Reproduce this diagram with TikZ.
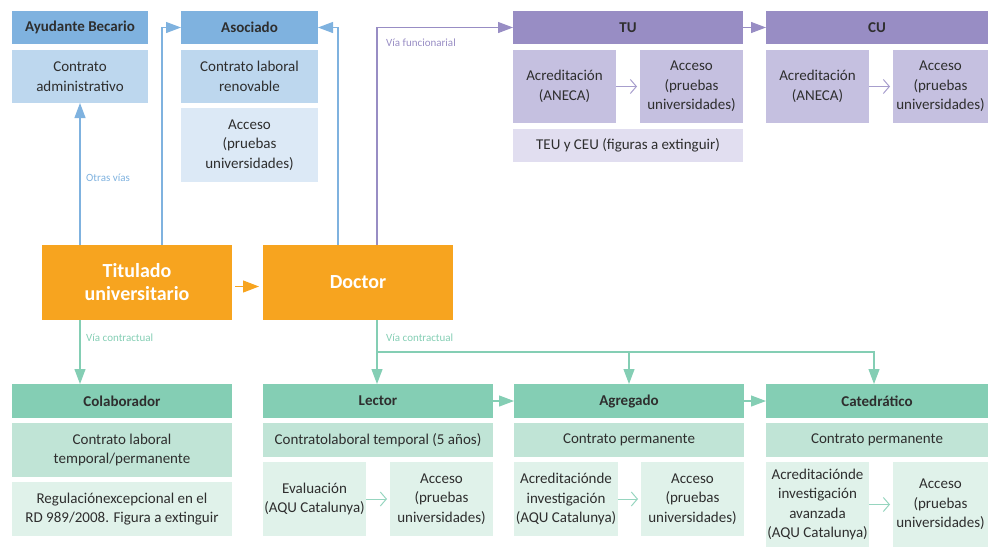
\documentclass[tikz,border=0pt]{standalone}
\usepackage{fontspec}
\setmainfont{Carlito}
\usetikzlibrary{arrows.meta}
\definecolor{bhead}{HTML}{7FB2DF}
\definecolor{bbody}{HTML}{BDD7EE}
\definecolor{blight}{HTML}{DCE9F6}
\definecolor{orng}{HTML}{F7A41F}
\definecolor{phead}{HTML}{988DC4}
\definecolor{pbody}{HTML}{C5C0E0}
\definecolor{plight}{HTML}{E1DEF0}
\definecolor{ghead}{HTML}{84CEB4}
\definecolor{gbody}{HTML}{C0E4D6}
\definecolor{glight}{HTML}{E0F2EA}
\definecolor{txt}{HTML}{2E2E2E}
\newcommand\bx[7]{\node[#2, minimum width={#5-#3}, minimum height={#6-#4}] (#1) at ({(#3+#5)/2},{(#4+#6)/2}) {#7};}
\tikzset{
  base/.style={inner sep=0pt, outer sep=0pt, align=center, text=txt, font=\fontsize{15}{19.5}\selectfont},
  hd/.style={base, font=\fontsize{15}{18}\selectfont\bfseries},
  bh/.style={hd, fill=bhead}, bb/.style={base, fill=bbody}, bl/.style={base, fill=blight},
  ph/.style={hd, fill=phead}, pb/.style={base, fill=pbody}, pl/.style={base, fill=plight},
  gh/.style={hd, fill=ghead}, gb/.style={base, fill=gbody}, gl/.style={base, fill=glight},
  ob/.style={inner sep=0pt, outer sep=0pt, align=center, fill=orng, text=white, font=\fontsize{20}{23}\selectfont\bfseries},
  tip/.style={-{Triangle[length=15pt,width=11pt]}},
  barr/.style={draw=bhead, line width=1.2pt, tip},
  parr/.style={draw=phead, line width=1.2pt, tip},
  garr/.style={draw=ghead, line width=1.2pt, tip},
  oarr/.style={draw=orng, line width=1.2pt, -{Triangle[length=16pt,width=12pt]}, shorten <=3pt, shorten >=4pt},
  psmall/.style={draw=phead!85, line width=1pt, -{Straight Barb[length=6pt,width=14pt]}, shorten >=3pt},
  gsmall/.style={draw=ghead!85, line width=1pt, -{Straight Barb[length=6pt,width=14pt]}, shorten >=3pt},
  lbl/.style={inner sep=0pt, anchor=west, font=\fontsize{11}{13}\selectfont}
}
\begin{document}
\begin{tikzpicture}[x=1pt,y=-1pt]
\useasboundingbox (0,0) rectangle (990,547);
% blue
\bx{ayh}{bh}{12}{11}{148}{44}{Ayudante Becario}
\bx{ayb}{bb}{12}{50}{148}{103}{Contrato\\administrativo}
\bx{ash}{bh}{181}{11}{318}{44}{Asociado}
\bx{asb1}{bb}{181}{50}{318}{103}{Contrato laboral\\renovable}
\bx{asb2}{bl}{181}{108}{318}{182}{Acceso\\(pruebas\\universidades)}
% purple
\bx{tuh}{ph}{513}{11}{743}{44}{TU}
\bx{tua}{pb}{513}{50}{616}{123}{Acreditación\\(ANECA)}
\bx{tub}{pb}{640}{50}{743}{123}{Acceso\\(pruebas\\universidades)}
\bx{teu}{pl}{513}{129}{743}{162}{TEU y CEU (figuras a extinguir)}
\bx{cuh}{ph}{766}{11}{988}{44}{CU}
\bx{cua}{pb}{766}{50}{869}{123}{Acreditación\\(ANECA)}
\bx{cub}{pb}{893}{50}{988}{123}{Acceso\\(pruebas\\universidades)}
% orange
\bx{tit}{ob}{42}{245}{232}{320}{Titulado\\universitario}
\bx{doc}{ob}{263}{245}{453}{320}{Doctor}
% green
\bx{colh}{gh}{12}{384}{232}{418}{Colaborador}
\bx{colb1}{gb}{12}{423}{232}{477}{Contrato laboral\\temporal/permanente}
\bx{colb2}{gl}{12}{482}{232}{536}{Regulaciónexcepcional en el\\RD 989/2008. Figura a extinguir}
\bx{lech}{gh}{263}{384}{493}{418}{Lector}
\bx{lecb}{gb}{263}{423}{493}{457}{Contratolaboral temporal (5 años)}
\bx{leca}{gl}{263}{462}{366}{536}{Evaluación\\(AQU Catalunya)}
\bx{lecc}{gl}{390}{462}{493}{536}{Acceso\\(pruebas\\universidades)}
\bx{agh}{gh}{514}{384}{744}{418}{Agregado}
\bx{agb}{gb}{514}{423}{744}{457}{Contrato permanente}
\bx{aga}{gl}{514}{462}{618}{536}{Acreditaciónde\\investigación\\(AQU Catalunya)}
\bx{agc}{gl}{641}{462}{744}{536}{Acceso\\(pruebas\\universidades)}
\bx{cath}{gh}{766}{384}{988}{418}{Catedrático}
\bx{catb}{gb}{766}{423}{988}{457}{Contrato permanente}
\bx{cata}{gl}{766}{462}{869}{547}{Acreditaciónde\\investigación\\avanzada\\(AQU Catalunya)}
\bx{catc}{gl}{893}{462}{988}{547}{Acceso\\(pruebas\\universidades)}
% coordinates
\coordinate (xa) at (162,0);
\coordinate (xb) at (338,0);
\coordinate (xc) at (377,0);
\coordinate (gj) at (377,352);
% connectors
\draw[barr] (tit.north -| ayb.south) -- (ayb.south);
\draw[barr] (tit.north -| xa) |- (ash.west);
\draw[barr] (doc.north -| xb) |- (ash.east);
\draw[parr] (doc.north -| xc) |- (tuh.west);
\draw[parr] (tuh.east) -- (cuh.west);
\draw[psmall] (tua) -- (tub);
\draw[psmall] (cua) -- (cub);
\draw[oarr] ([yshift=-4pt]tit.east) -- ([yshift=-4pt]doc.west);
\draw[garr] (tit.south -| ayb.south) -- (colh.north -| ayb.south);
\draw[garr] (doc.south -| xc) -- (lech.north -| xc);
\draw[garr] (gj) -| (agh.north);
\draw[garr] (gj) -| ([xshift=-3pt]cath.north);
\draw[garr] (lech.east) -- (agh.west);
\draw[garr] (agh.east) -- (cath.west);
\draw[gsmall] (leca) -- (lecc);
\draw[gsmall] (aga) -- (agc);
\draw[gsmall] (cata) -- (catc);
% labels
\node[lbl, text=bhead] (l1) at (86,178) {Otras vías};
\node[lbl, text=ghead] (l2) at (86,338) {Vía contractual};
\node[lbl, text=ghead] (l3) at (386,338) {Vía contractual};
\node[lbl, text=phead] (l4) at (386,43) {Vía funcionarial};
\end{tikzpicture}
\end{document}
